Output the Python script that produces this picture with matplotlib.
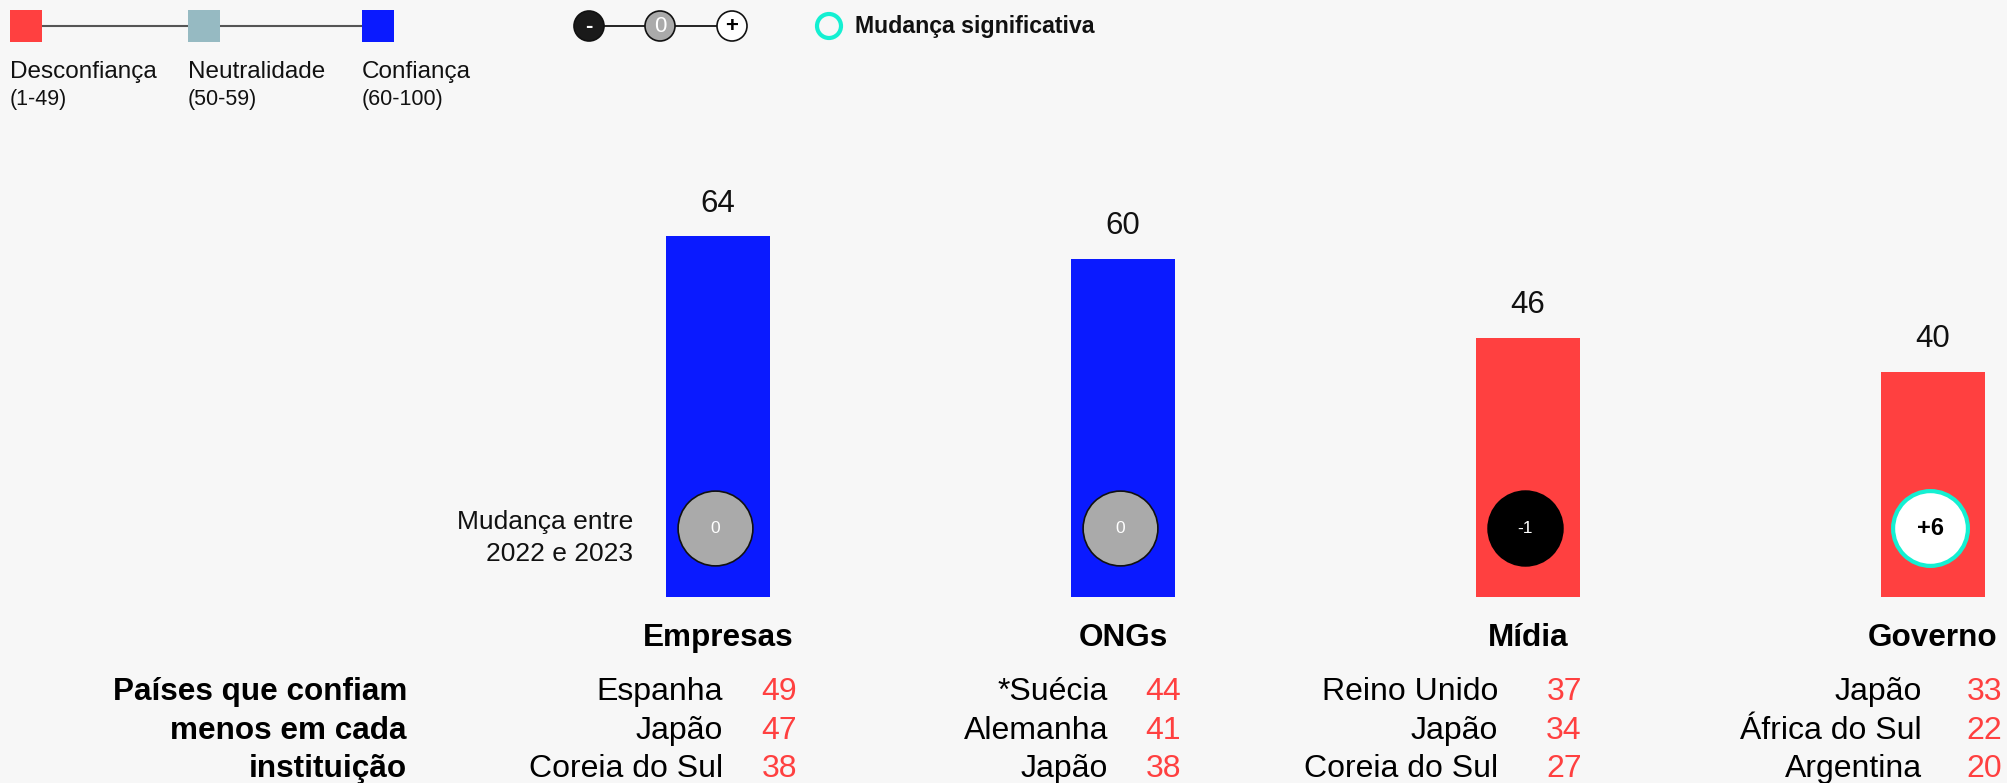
import matplotlib.pyplot as plt
import matplotlib.patches as mpatches
from matplotlib.transforms import blended_transform_factory

plt.rcParams['font.family'] = ['Liberation Sans', 'DejaVu Sans']

# data
categories = ['Empresas', 'ONGs', 'Mídia', 'Governo']
trust = [64, 60, 46, 40]
change = ['0', '0', '-1', '+6']
significant = [False, False, False, True]
low_countries = [
    ['Espanha', 'Japão', 'Coreia do Sul'],
    ['*Suécia', 'Alemanha', 'Japão'],
    ['Reino Unido', 'Japão', 'Coreia do Sul'],
    ['Japão', 'África do Sul', 'Argentina'],
]
low_values = [
    [49, 47, 38],
    [44, 41, 38],
    [37, 34, 27],
    [33, 22, 20],
]

RED = '#ff4040'
NEUTRAL = '#96bac2'
BLUE = '#0a1aff'
TEAL = '#14f0d2'
BG = '#f7f7f7'


def level_color(v):
    if v < 50:
        return RED
    if v < 60:
        return NEUTRAL
    return BLUE


fig = plt.figure(figsize=(20.08, 7.83), dpi=100, facecolor=BG)

# overlay in pixel coords (for legend and text layout)
ov = fig.add_axes([0, 0, 1, 1])
ov.set_xlim(0, 2008)
ov.set_ylim(783, 0)
ov.axis('off')

# bar axes
ax = fig.add_axes([415 / 2008, 186 / 783, (2008 - 415) / 2008, 451 / 783])
ax.set_facecolor('none')
ax.set_xlim(-303 / 405, 1290 / 405)
ax.set_ylim(0, 80)
ax.axis('off')

x = list(range(len(categories)))
ax.bar(x, trust, width=104 / 405, color=[level_color(v) for v in trust])

for i, v in enumerate(trust):
    ax.annotate(str(v), (i, v), xytext=(0, 23.5), textcoords='offset points',
                ha='center', va='center', fontsize=22.5, color='#111111')

# change circles
for i, (c, sig) in enumerate(zip(change, significant)):
    if sig:
        face, edge, lw, tc, fw, fs = 'white', TEAL, 3.0, 'black', 'bold', 17
    elif c.startswith('-'):
        face, edge, lw, tc, fw, fs = 'black', 'black', 1.2, 'white', 'normal', 12.5
    elif c == '0':
        face, edge, lw, tc, fw, fs = '#aaaaaa', '#111111', 1.2, 'white', 'normal', 12.5
    else:
        face, edge, lw, tc, fw, fs = 'white', 'black', 1.2, 'black', 'bold', 17
    ax.scatter([i - 0.007], [12.2], s=2900, facecolor=face, edgecolor=edge,
               linewidth=lw, zorder=3)
    ax.text(i - 0.007, 12.2, c, ha='center', va='center', color=tc,
            fontsize=fs, fontweight=fw, zorder=4)

ov.text(633, 522, 'Mudança entre', ha='right', va='center', fontsize=19,
        color='#111111')
ov.text(633, 554, '2022 e 2023', ha='right', va='center', fontsize=19,
        color='#111111')

# category labels and country lists
bt = blended_transform_factory(ax.transData, ov.transData)
country_dx = [0.012, -0.037, -0.074, -0.027]
value_dx = [0.195, 0.143, 0.133, 0.170]
rows_y = [692, 731, 769]
for i, cat in enumerate(categories):
    ax.text(i, 638, cat, transform=bt, ha='center', va='center',
            fontsize=22.7, fontweight='bold', color='black')
    for j in range(3):
        ax.text(i + country_dx[i], rows_y[j], low_countries[i][j],
                transform=bt, ha='right', va='center', fontsize=23,
                color='black')
        ax.text(i + value_dx[i], rows_y[j], str(low_values[i][j]),
                transform=bt, ha='right', va='center', fontsize=23,
                color=RED)

for y, line in zip(rows_y, ['Países que confiam', 'menos em cada', 'instituição']):
    ov.text(407, y, line, ha='right', va='center', fontsize=22.7,
            fontweight='bold', color='black')

# legend: trust levels
ov.plot([26, 378], [26, 26], color='#555555', lw=1.5, zorder=1)
for x0, col, lab, rng in [(10, RED, 'Desconfiança', '(1-49)'),
                          (188, NEUTRAL, 'Neutralidade', '(50-59)'),
                          (362, BLUE, 'Confiança', '(60-100)')]:
    ov.add_patch(mpatches.Rectangle((x0, 10), 32, 32, facecolor=col,
                                    edgecolor='none', zorder=2))
    ov.text(x0, 72, lab, ha='left', va='center', fontsize=17.5, color='#111111')
    ov.text(x0, 99, rng, ha='left', va='center', fontsize=15.5, color='#111111')

# legend: change circles
ov.plot([589, 732], [26, 26], color='black', lw=1.2, zorder=1)
for cx, face, sym, tc in [(589, '#1a1a1a', '-', 'white'),
                          (660, '#aaaaaa', '0', 'white'),
                          (732, 'white', '+', 'black')]:
    ov.add_patch(mpatches.Circle((cx, 26), 15, facecolor=face,
                                 edgecolor='#111111', lw=1.2, zorder=2))
    ov.text(cx, 26, sym, ha='center', va='center', fontsize=16,
            fontweight='bold' if sym != '0' else 'normal', color=tc, zorder=3)

ov.add_patch(mpatches.Circle((829, 26), 12, facecolor='none', edgecolor=TEAL,
                             lw=3, zorder=2))
ov.text(855, 27, 'Mudança significativa', ha='left', va='center',
        fontsize=16.7, fontweight='bold', color='#111111')

fig.savefig('out.png', dpi=100, facecolor=BG)
